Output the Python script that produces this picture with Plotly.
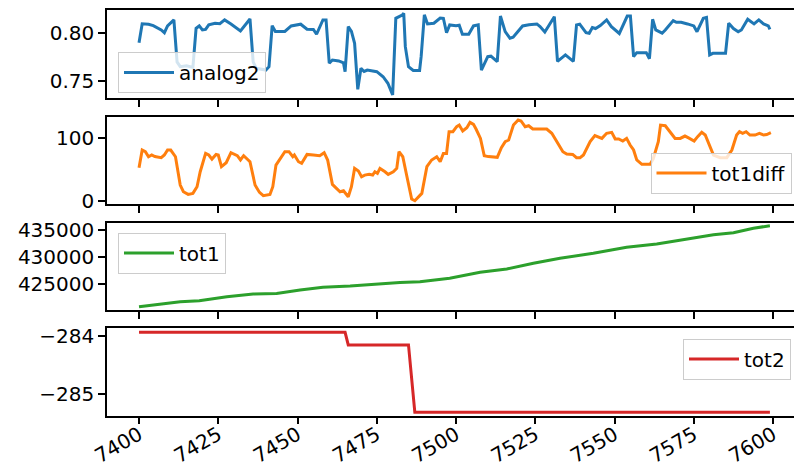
import plotly.graph_objects as go

# ---------------- data ----------------
analog2_x = [7400, 7401, 7403, 7404.5, 7407, 7408, 7409, 7411, 7412, 7413, 7415, 7417, 7418, 7419,
             7420, 7421, 7422, 7424, 7425.5, 7427, 7429, 7432, 7435, 7436, 7437, 7440, 7441, 7442,
             7443, 7446, 7448, 7450, 7451, 7453, 7455, 7456, 7458, 7459, 7460, 7461, 7463, 7464.5,
             7465, 7466, 7467, 7468, 7469, 7470, 7471, 7472, 7475, 7477, 7478.5, 7480, 7481, 7483,
             7483.5, 7484, 7485, 7486.5, 7488.5, 7489, 7490, 7491, 7493, 7495, 7496, 7497, 7498,
             7500, 7501, 7502, 7504, 7505.5, 7507, 7508, 7510, 7511, 7513, 7514, 7515.5, 7517,
             7518, 7521, 7523, 7525.5, 7526.5, 7528, 7531, 7532, 7534.5, 7537, 7538, 7539, 7541,
             7542, 7543, 7544, 7545.5, 7547.5, 7549, 7551.5, 7554, 7555, 7556, 7557, 7560, 7561,
             7562, 7563, 7565, 7566, 7568.5, 7569.5, 7571, 7573, 7575, 7576, 7578, 7579, 7580,
             7581, 7585, 7586, 7587.5, 7589, 7590, 7592, 7594, 7595.5, 7597, 7598.5, 7599]
analog2_y = [0.790, 0.810, 0.8095, 0.808, 0.8035, 0.8006, 0.8077, 0.814, 0.770, 0.765, 0.766, 0.7643,
             0.8052, 0.8077, 0.8035, 0.804, 0.8088, 0.8105, 0.810, 0.814, 0.8098, 0.8024, 0.815,
             0.770, 0.7633, 0.7615, 0.765, 0.808, 0.802, 0.802, 0.8077, 0.809, 0.8095, 0.8042,
             0.804, 0.799, 0.814, 0.814, 0.7686, 0.772, 0.771, 0.769, 0.7598, 0.807, 0.802, 0.7895,
             0.7413, 0.7633, 0.760, 0.7615, 0.7598, 0.7545, 0.7476, 0.7353, 0.8157, 0.819, 0.821,
             0.786, 0.765, 0.761, 0.761, 0.7757, 0.8193, 0.8098, 0.8105, 0.816, 0.8157, 0.8006,
             0.8088, 0.808, 0.8085, 0.799, 0.799, 0.8077, 0.8088, 0.7615, 0.7755, 0.776, 0.7703,
             0.8181, 0.8017, 0.7948, 0.796, 0.8077, 0.809, 0.8098, 0.807, 0.8014, 0.8174, 0.7706,
             0.7773, 0.7706, 0.8088, 0.8095, 0.8006, 0.800, 0.806, 0.805, 0.808, 0.814, 0.807,
             0.7998, 0.8181, 0.8181, 0.7755, 0.7797, 0.7797, 0.7734, 0.8147, 0.8035, 0.8001,
             0.8035, 0.8133, 0.8115, 0.8115, 0.8098, 0.8077, 0.8017, 0.8157, 0.8167, 0.7773,
             0.779, 0.779, 0.8105, 0.805, 0.8017, 0.8035, 0.8147, 0.8098, 0.814, 0.8098, 0.8077,
             0.8042]

tot1diff_x = [7400, 7401, 7402, 7403, 7404, 7405, 7407, 7408, 7409, 7410, 7411.5, 7413, 7414, 7415.5,
              7417, 7418.3, 7419.3, 7421, 7422, 7423, 7424.3, 7425, 7426, 7427.5, 7429, 7431, 7432,
              7433, 7435, 7436.6, 7438, 7439.2, 7441.3, 7442.2, 7443.2, 7444.5, 7446, 7447.3,
              7448.5, 7449, 7450.3, 7451.3, 7453, 7455, 7457, 7458.4, 7459.5, 7461, 7462.4, 7463.4,
              7464.5, 7466, 7467, 7468, 7469.2, 7470.2, 7471.2, 7472.6, 7473.7, 7474.4, 7475.2,
              7476, 7477.6, 7478.6, 7480.2, 7481.3, 7482, 7483.2, 7484.4, 7486, 7487, 7489.2,
              7490.8, 7492.3, 7493.9, 7495, 7496, 7497, 7497.8, 7499, 7500.2, 7501, 7502.1, 7503.4,
              7504.4, 7505.5, 7506.3, 7507.7, 7508.9, 7510.2, 7513, 7514.3, 7515.5, 7516.6, 7518.1,
              7519.6, 7520.5, 7521.8, 7522.9, 7524.2, 7525.5, 7527.1, 7528.6, 7530.2, 7531.8,
              7533.7, 7534.9, 7536.8, 7538, 7539.1, 7540.2, 7541.2, 7542.3, 7543.8, 7544.9, 7546,
              7547.5, 7549.1, 7550.2, 7551.3, 7552.6, 7553.8, 7554.9, 7556, 7557, 7558.6, 7561.2,
              7562.2, 7563.8, 7564.5, 7566, 7567.5, 7569.1, 7570.7, 7572.2, 7573.2, 7575.1, 7576.2,
              7577.5, 7578.6, 7579.9, 7581.2, 7583.3, 7585.4, 7587, 7588.5, 7589.4, 7590.4, 7591.5,
              7592.7, 7594.3, 7595.7, 7597, 7598, 7599.3]
tot1diff_y = [52.4, 80.4, 77.8, 69.8, 72.5, 70, 68.3, 72.5, 80.4, 80.4, 69.8, 24.9, 14.3, 10, 11.6,
              22.2, 46, 75.1, 72.5, 66.1, 73.5, 72.5, 54, 60.3, 76.2, 71.4, 64.6, 71.4, 61.9, 24.9,
              13.2, 7.9, 10, 22.2, 56.6, 67.2, 77.8, 77.8, 69.8, 72.5, 61.9, 59.3, 73.5, 72.5, 71.4,
              76.2, 64.6, 25.9, 18.5, 14.3, 15.9, 6.3, 22.2, 51.3, 47.1, 38.1, 40.7, 41.8, 40.7, 46,
              43.4, 51.3, 46, 41.8, 46, 51.3, 77.8, 69.8, 40.7, 2.6, 0, 11.6, 54, 64.6, 69.8, 61.9,
              75.1, 75.1, 109.5, 109.5, 117.5, 120, 110.6, 115.9, 124.3, 121.2, 113.8, 98.9, 71.4,
              70, 68.8, 84.1, 93.7, 96.3, 120, 128, 126.5, 117.5, 119, 113.8, 113.8, 113.8, 113.8,
              106.9, 93.7, 77.8, 74, 73.5, 68.3, 68.3, 72.5, 83, 93.7, 103.2, 101.6, 98.9, 106.9,
              108.5, 97.9, 97.9, 94.7, 98.9, 88.4, 80.5, 64.6, 57.8, 57.8, 66.2, 93.7, 120, 119,
              109.5, 98.9, 98.9, 102.6, 100, 94.7, 101.6, 108.5, 104.2, 88.4, 72.5, 68.3, 68.3,
              80.4, 104.2, 109.5, 106.9, 109.5, 104.2, 104.2, 106.9, 104.2, 105, 107.9]

tot1_x = [7400, 7413, 7419, 7427.7, 7436, 7443.4, 7450.8, 7458, 7466.6, 7475, 7482.3, 7488.6, 7498,
          7507.6, 7516, 7524.4, 7532.8, 7543.3, 7553.8, 7563.3, 7572.8, 7581.2, 7587.5, 7593.8, 7599]
tot1_y = [420796, 421722, 421907, 422648, 423147, 423250, 423888, 424388, 424629, 425000, 425300,
          425425, 426055, 427166, 427777, 428833, 429759, 430685, 431796, 432407, 433333, 434130,
          434500, 435315, 435796]

tot2_x = [7400, 7465, 7466, 7485, 7487, 7599]
tot2_y = [-283.942, -283.942, -284.158, -284.158, -285.307, -285.307]

x_ticks = [7400, 7425, 7450, 7475, 7500, 7525, 7550, 7575, 7600]
y_ticks = [[0.75, 0.80], [0, 100], [425000, 430000, 435000], [-285, -284]]
y_ticktext = [["0.75", "0.80"], ["0", "100"], ["425000", "430000", "435000"], ["\u2212285", "\u2212284"]]

names = ["analog2", "tot1diff", "tot1", "tot2"]
colors = ["#1f77b4", "#ff7f0e", "#2ca02c", "#d62728"]
series = [(analog2_x, analog2_y), (tot1diff_x, tot1diff_y), (tot1_x, tot1_y), (tot2_x, tot2_y)]

# ---------------- layout geometry (pixels) ----------------
W, H = 794, 465
L, R, T, B = 107, 0, 10, 49
PH = H - T - B
panels_px = [(10, 98), (116.7, 204), (222.7, 310), (328.3, 415.7)]
y_ranges = [[0.7322, 0.8244], [-5.2, 133.3], [420185, 436350], [-285.365, -283.874]]
x_range = [7389.9, 7606.6]

def fy(py):
    return (H - B - py) / PH

def fx(px):
    return (px - L) / (W - L - R)

FONT = "DejaVu Sans"
fig = go.Figure()
legend_pos = [
    dict(x=fx(118), y=fy(52), xanchor="left", yanchor="top"),
    dict(x=fx(791.5), y=fy(193.5), xanchor="right", yanchor="bottom"),
    dict(x=fx(118), y=fy(232.5), xanchor="left", yanchor="top"),
    dict(x=fx(791), y=fy(338.5), xanchor="right", yanchor="top"),
]

layout = dict(
    width=W, height=H,
    margin=dict(l=L, r=R, t=T, b=B, pad=0, autoexpand=False),
    paper_bgcolor="white", plot_bgcolor="white",
    font=dict(family=FONT, size=20, color="black"),
    showlegend=True,
)

for i, ((xs, ys), name, col) in enumerate(zip(series, names, colors)):
    k = "" if i == 0 else str(i + 1)
    leg = "legend" + k
    fig.add_trace(go.Scatter(x=xs, y=ys, mode="lines", name=name,
                             line=dict(color=col, width=3),
                             xaxis="x" + k, yaxis="y" + k, legend=leg))
    top, bot = panels_px[i]
    layout["xaxis" + k] = dict(
        domain=[0, 1], range=x_range, anchor="y" + k, automargin=False,
        matches=None if i == 0 else "x",
        showline=True, mirror=True, linecolor="black", linewidth=1.5,
        ticks="outside", ticklen=7, tickwidth=1.5, tickcolor="black",
        tickvals=x_ticks, showticklabels=(i == 3), tickangle=-30,
        ticklabelstandoff=-9,
        showgrid=False, zeroline=False,
        tickfont=dict(family=FONT, size=20, color="black"),
    )
    layout["yaxis" + k] = dict(
        domain=[fy(bot), fy(top)], range=y_ranges[i], anchor="x" + k, automargin=False,
        showline=True, mirror=False, linecolor="black", linewidth=1.5,
        ticks="outside", ticklen=7, tickwidth=1.5, tickcolor="black",
        tickvals=y_ticks[i], ticktext=y_ticktext[i],
        showgrid=False, zeroline=False,
        tickfont=dict(family=FONT, size=20, color="black"),
    )
    layout[leg] = dict(
        **legend_pos[i],
        bgcolor="rgba(255,255,255,0.8)", bordercolor="#cccccc", borderwidth=1,
        font=dict(family=FONT, size=20, color="black"),
        itemwidth=50, tracegroupgap=0,
    )

fig.update_layout(**layout)
fig.write_html("out.html")
